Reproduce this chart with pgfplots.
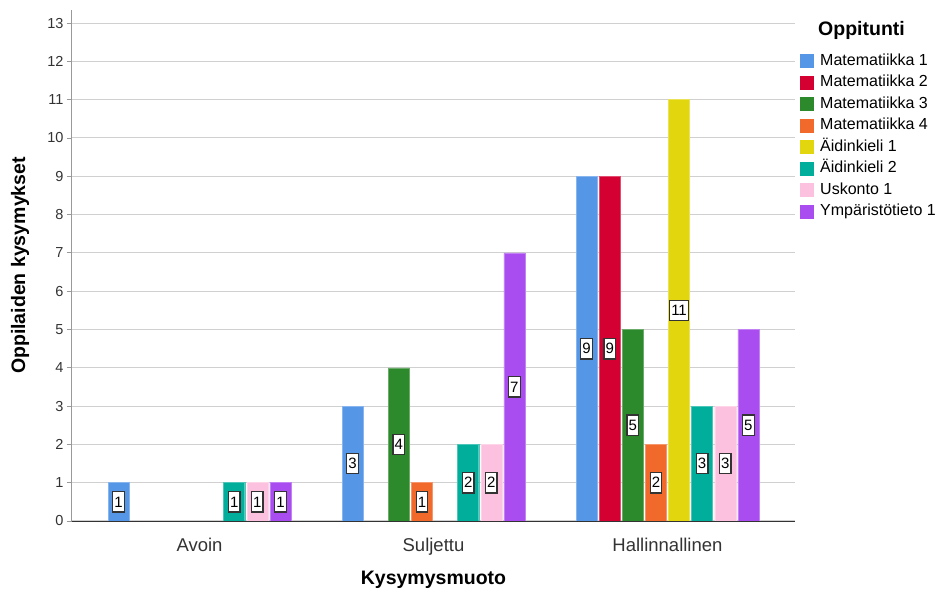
\documentclass[border=0pt]{standalone}
\usepackage{pgfplots}
\pgfplotsset{compat=1.18}
\usepackage{fontspec}
\setmainfont{Liberation Sans}

\definecolor{cMa}{HTML}{5596E6}
\definecolor{cMb}{HTML}{D50032}
\definecolor{cMc}{HTML}{2C892C}
\definecolor{cMd}{HTML}{F26A2B}
\definecolor{cAa}{HTML}{E2D60F}
\definecolor{cAb}{HTML}{00AE9B}
\definecolor{cU}{HTML}{FDC1E0}
\definecolor{cY}{HTML}{A94CF0}
\definecolor{tickgray}{HTML}{333333}
\definecolor{gridgray}{HTML}{D0D0D0}

\begin{document}
\begin{tikzpicture}
\begin{axis}[
  scale only axis,
  width=723pt, height=511pt,
  xmin=-0.545, xmax=2.545,
  ymin=0, ymax=13.34,
  axis lines*=left,
  x axis line style={draw=tickgray, line width=0.8pt},
  y axis line style={draw=gray!80, line width=1pt},
  ybar,
  bar width=0.09,
  xtick={0,1,2},
  xticklabels={Avoin, Suljettu, Hallinnallinen},
  x tick style={draw=none},
  ytick={0,1,...,13},
  y tick style={draw=gray!80, line width=0.8pt},
  tick align=outside,
  major tick length=5pt,
  ymajorgrids,
  major grid style={draw=gridgray, line width=1pt},
  /pgf/number format/assume math mode=true,
  yticklabel style={font=\fontsize{14.5}{16}\selectfont, text=tickgray},
  xticklabel style={font=\fontsize{18.5}{20}\selectfont, text=tickgray, yshift=-9pt},
  xlabel={\textbf{Kysymysmuoto}},
  ylabel={\textbf{Oppilaiden kysymykset}},
  xlabel style={font=\fontsize{19.5}{21}\selectfont, at={(axis description cs:0.5,-0.1155)}, anchor=center},
  ylabel style={font=\fontsize{19.5}{21}\selectfont, at={(axis description cs:-0.0719,0.5)}, anchor=center},
  visualization depends on={rawy \as \rawy},
  nodes near coords,
  every node near coord/.append style={
    anchor=center, shift={(axis direction cs:0,-\rawy/2)},
    fill=white, draw=tickgray, line width=1.2pt,
    font=\fontsize{15}{17}\selectfont, text=black,
    inner xsep=1.6pt, inner ysep=5pt},
  legend cell align=left,
  legend style={
    at={(rel axis cs:1.0028,0.918)}, anchor=north west,
    draw=none, fill=none,
    font=\fontsize{16}{18}\selectfont,
    row sep=7.5pt,
    nodes={inner sep=0pt, text height=11pt, text depth=3pt},
    /tikz/every odd column/.append style={column sep=6pt},
  },
  legend image code/.code={\fill[#1,draw=none] (0pt,-7pt) rectangle (14pt,7pt);},
]
\addplot[fill=cMa, draw=cMa!70!white, bar shift=-0.3458] coordinates {(0,1) (1,3) (2,9)};
\addlegendentry{Matematiikka 1}
\addplot[fill=cMb, draw=cMb!70!white, bar shift=-0.2470] coordinates {(2,9)};
\addlegendentry{Matematiikka 2}
\addplot[fill=cMc, draw=cMc!70!white, bar shift=-0.1482] coordinates {(1,4) (2,5)};
\addlegendentry{Matematiikka 3}
\addplot[fill=cMd, draw=cMd!70!white, bar shift=-0.0494] coordinates {(1,1) (2,2)};
\addlegendentry{Matematiikka 4}
\addplot[fill=cAa, draw=cAa!70!white, bar shift=0.0494] coordinates {(2,11)};
\addlegendentry{Äidinkieli 1}
\addplot[fill=cAb, draw=cAb!70!white, bar shift=0.1482] coordinates {(0,1) (1,2) (2,3)};
\addlegendentry{Äidinkieli 2}
\addplot[fill=cU, draw=cU!70!white, bar shift=0.2470] coordinates {(0,1) (1,2) (2,3)};
\addlegendentry{Uskonto 1}
\addplot[fill=cY, draw=cY!70!white, bar shift=0.3458] coordinates {(0,1) (1,7) (2,5)};
\addlegendentry{Ympäristötieto 1}
\end{axis}
\node[anchor=west, font=\bfseries\fontsize{19.5}{21}\selectfont, inner sep=0pt]
  at ([shift={(746pt,491pt)}]current axis.south west) {Oppitunti};
\pgfresetboundingbox
\path[use as bounding box] ([shift={(-72pt,-75pt)}]current axis.south west)
  rectangle ([shift={(866pt,521pt)}]current axis.south west);
\end{tikzpicture}
\end{document}
